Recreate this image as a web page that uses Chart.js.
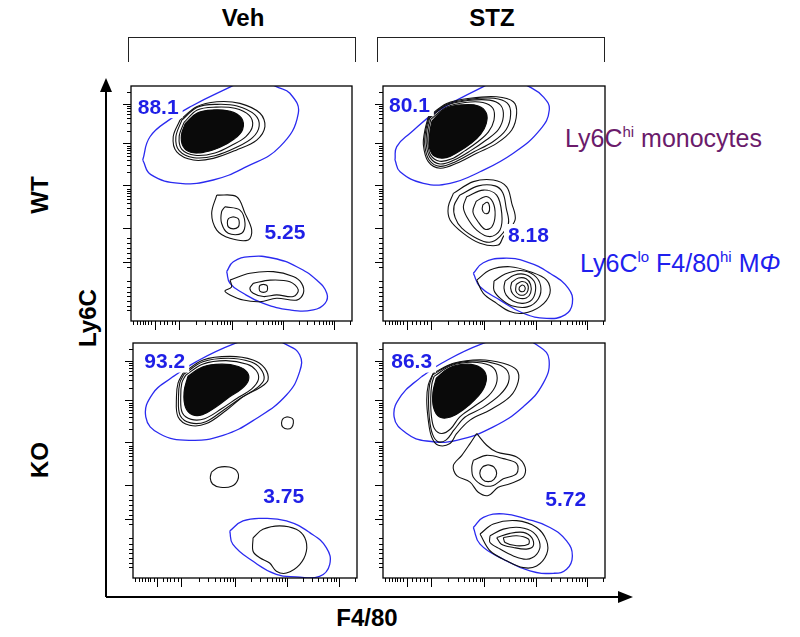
<!DOCTYPE html>
<html>
<head>
<meta charset="utf-8">
<script src="https://cdn.jsdelivr.net/npm/chart.js@4.4.1/dist/chart.umd.min.js"></script>
<style>
  body { margin: 0; width: 800px; height: 637px; position: relative; background: #fff; overflow: hidden;
         font-family: "Liberation Sans", Arial, sans-serif; }
  .panel { position: absolute; }
  .txt { position: absolute; white-space: nowrap; line-height: 1; }
  .bold { font-weight: bold; color: #000; font-size: 24px; }
  .rot { transform: translate(-50%, -50%) rotate(-90deg); }
  .bracket { position: absolute; border: 1.5px solid #222; border-bottom: none; height: 24px; top: 37px; }
  .pop { font-size: 25px; }
  .pop sup { font-size: 15px; vertical-align: 10px; }
</style>
</head>
<body>

<div class="txt bold" style="left:243px; top:18px; transform:translate(-50%,-50%)">Veh</div>
<div class="txt bold" style="left:492px; top:18px; transform:translate(-50%,-50%)">STZ</div>
<div class="bracket" style="left:128px; width:226px"></div>
<div class="bracket" style="left:377px; width:226px"></div>

<div class="txt bold rot" style="left:40px; top:195px">WT</div>
<div class="txt bold rot" style="left:40px; top:460px">KO</div>
<div class="txt bold rot" style="left:88px; top:318px">Ly6C</div>
<div class="txt bold" style="left:367px; top:618px; transform:translate(-50%,-50%)">F4/80</div>

<div class="txt pop" style="left:565px; top:124px; color:#6b1b6b">Ly6C<sup>hi</sup> monocytes</div>
<div class="txt pop" style="left:580px; top:249px; color:#2020ee">Ly6C<sup>lo</sup> F4/80<sup>hi</sup> M<i>Φ</i></div>

<svg width="800" height="637" style="position:absolute; left:0; top:0; pointer-events:none">
  <line x1="106" y1="597" x2="106" y2="88" stroke="#000" stroke-width="2"/>
  <polygon points="100,92 106,78 112,92" fill="#000"/>
  <line x1="106" y1="597" x2="622" y2="597" stroke="#000" stroke-width="2"/>
  <polygon points="618,591 633,597 618,603" fill="#000"/>
</svg>

<div id="wtVeh" class="panel"><canvas></canvas></div>
<div id="wtStz" class="panel"><canvas></canvas></div>
<div id="koVeh" class="panel"><canvas></canvas></div>
<div id="koStz" class="panel"><canvas></canvas></div>

<script>
// axis tick positions (0-100 display units, log-like flow axes)
const xMajorTicks = [10.9, 21.5, 45.7, 68.8, 91.9];
const xMinorTicks = [1, 2.5, 4, 5.3, 6.5, 7.8, 9.2, 13.2, 15, 16.5, 18.5, 20,
  29.5, 33.6, 36.5, 38.8, 40.6, 42.1, 43.5, 44.6, 52.6, 56.7, 59.6, 61.9, 63.7, 65.2, 66.6, 67.7,
  75.8, 79.8, 82.7, 85, 86.8, 88.3, 89.7, 90.8, 98.9];
const yMajorTicks = [25, 39.6, 57.9, 75.7, 92.3];
const yMinorTicks = [4.7, 6.5, 8.5, 10.5, 12.5, 14.5, 17, 23, 27, 29, 31, 33, 35.5,
  44.9, 48, 50.1, 51.8, 53.2, 54.4, 55.4, 56.3, 63.2, 66.3, 68.4, 70.1, 71.5, 72.7, 73.7, 74.6,
  81, 84.1, 86.2, 87.9, 89.3, 90.5, 91.5, 97.6];

// ---- WT Veh ----
const wtVehContours = [
  [[22.2,85.5],[29.7,91.2],[38.8,93.3],[49.3,92.6],[58.4,88.4],[60.6,82.7],[56.9,77.0],[47.8,72.8],[37.2,69.2],[28.2,68.5],[20.7,72.0],[19.1,78.4]],
  [[23,85.5],[30,91],[39,92.2],[48,91.5],[56,87.8],[58,83],[55,78],[48,74],[38,70.3],[28.5,69.5],[21.8,72.5],[20.3,78.3]],
  [[24,84.5],[30,89.8],[38.5,91],[47,90.5],[53.5,87.5],[55,83],[52,78.5],[46,75],[38,71.5],[29,70.5],[23,73],[21.8,78.5]],
  [[38.8,53.6],[47.8,52.9],[51.6,45.8],[54.6,38.7],[53.1,34.5],[44.8,35.2],[38.8,38.7],[36.5,45.8]],
  [[42.5,48.6],[49.3,47.2],[51.6,41.6],[50.1,37.3],[44.0,37.3],[41.0,41.6],[41.0,46.5]],
  [[46.3,44.4],[48.5,43.6],[49,41.8],[48.5,40],[46.3,39.2],[44.1,40],[43.6,41.8],[44.1,43.6]],
  [[44.8,17.4],[53.8,20.3],[64.4,21.0],[73.4,18.9],[77.2,16.0],[78.0,11.8],[75.0,8.9],[65.9,9.7],[58.4,8.2],[50.8,8.9],[44.8,11.1],[42.5,12.8],[45.5,14.5]],
  [[55.3,16.0],[62.9,17.4],[71.9,16.7],[75.7,13.2],[73.4,10.4],[65.9,11.1],[59.9,10.4],[55.3,11.8],[53.8,13.9]],
  [[59.9,15.6],[61.5,15.1],[61.8,13.9],[61.5,12.7],[59.9,12.2],[58.3,12.7],[58,13.9],[58.3,15.1]]
];
const wtVehCore = [[24.5,84],[30,88.5],[37.5,89.8],[45,89.2],[50,86.3],[50.5,81.5],[46.5,77.3],[40,73.8],[33,71.8],[27,71.8],[23.5,74.5],[22.8,79]];
const wtVehSpecks = [[31,80],[36,82],[41,84.5],[45,86.5]];
const wtVehGates = [
  [[5.3,68.5],[9,62.3],[22.2,58.6],[37.2,60],[52.3,65.7],[67.4,74.2],[75.7,88.4],[71.9,96.9],[66,99.6],[55,104],[45,99.6],[27.5,91.5],[17.6,85.8],[8.6,78.4]],
  [[43.3,21.0],[46.3,25.2],[53.8,27.4],[64.4,26.7],[75.0,23.1],[84.0,17.4],[88.6,11.8],[87.8,7.5],[82.5,4.7],[71.9,4.7],[59.9,7.5],[50.8,11.8],[44.8,16.0]]
];
const wtVehPcts = ['88.1', '5.25'];

// ---- WT STZ ----
const wtStzContours = [
  [[20.4,86.9],[28.7,92.6],[39.2,94.8],[51.2,95.4],[58.7,93.3],[60.2,88.4],[58.0,81.3],[51.2,75.6],[42.2,71.4],[33.2,67.1],[25.7,65.0],[20.4,67.8],[18.2,74.9],[18.9,81.3]],
  [[20.7,86.6],[28.7,92.2],[38.8,94.3],[50,94.8],[56,92.7],[57.5,88],[55.5,81.5],[49.5,76.3],[41,72],[32.7,67.8],[25.7,65.8],[20.8,68.5],[18.8,75],[19.3,81.3]],
  [[21,86.3],[28.6,91.8],[38,93.8],[48,94],[53,91.8],[54.2,87],[52,81.5],[46.5,77],[39.5,72.5],[32,68.5],[25.7,66.8],[21.2,69.5],[19.5,75.2],[19.8,81.2]],
  [[21.5,85.8],[28.5,91],[37,93],[45,93],[49.5,90.5],[50,85.5],[47.5,80.5],[43,76.5],[37,72.5],[31,69],[25.5,68],[21.5,70.5],[20.2,75.5],[20.5,81]],
  [[31.7,54.3],[40.7,59.3],[49.7,60.0],[55.7,57.1],[58.0,50.1],[59.5,43.0],[54.2,35.9],[51.9,32.3],[43.7,33.1],[36.2,37.3],[30.2,43.0],[29.4,48.6]],
  [[34.5,53.5],[43,57.5],[50.5,57.5],[54,54.5],[55.5,48],[56.5,41.5],[52.5,35.8],[48,33.5],[42.5,35],[35.5,39.5],[32.5,44],[32,49]],
  [[37.7,52.9],[45.2,55.7],[51.2,53.6],[53.5,45.8],[52.7,38.7],[48.2,35.9],[42.2,38.7],[37.7,44.4],[36.2,48.6]],
  [[42,51],[46.5,53],[49.5,50.5],[50.5,45],[49,40],[46,39],[43,42],[40.5,46.5]],
  [[45,49.5],[47,50.5],[48,48.5],[47.5,46],[45.8,45.8],[44.7,47.5]],
  [[42.2,17.4],[48.2,21.7],[57.2,23.1],[66.2,21.0],[73.7,17.4],[75.2,11.8],[70.7,6.1],[63.2,3.3],[57.2,4.0],[51.2,7.5],[45.2,11.8]],
  [[50,17],[55,20],[62,21.5],[68,19.5],[71,15],[70,9.5],[65,6],[58,6.5],[53,9.5],[50,13]],
  [[55,17],[59,19.5],[64,19.8],[68,17],[68.7,13],[67,9],[63,7.5],[58.5,8.5],[55.5,11],[54.5,14]],
  [[58,16.5],[61,18.3],[64.5,18],[66.5,15.5],[66.5,12],[64.5,9.8],[61,9.8],[58.5,11.5],[57.5,14]],
  [[60,15.5],[62.5,16.8],[65,15.8],[65.3,13],[63.8,11.2],[61.3,11.2],[59.8,12.8]],
  [[61.5,14.5],[62.8,15.3],[64,14.3],[63.7,12.8],[62.2,12.5],[61.3,13.4]]
];
const wtStzCore = [[22,85],[28,90.3],[36,92],[43,91.5],[46.5,88.5],[46.5,84],[44,79.5],[39.5,75.5],[34,72],[28.5,69.5],[23.5,70],[21,73.5],[21,79.5]];
const wtStzSpecks = [[27,78],[32,80],[37,83],[42,86]];
const wtStzGates = [
  [[5.4,68.5],[7.7,63.5],[18.2,58.6],[30.2,58.6],[43.7,63.5],[58.7,71.4],[70.7,81.3],[74.9,89.8],[72.2,95.4],[66,99.6],[55,104],[45,99.6],[24.2,89.1],[12.2,79.9],[6.2,74.2]],
  [[40.7,20.3],[45.2,24.8],[54.2,26.7],[64.7,25.2],[75.2,20.3],[83.5,13.9],[85.3,7.5],[82.0,2.6],[73.7,1.1],[63.2,3.3],[52.7,8.9],[43.7,14.6]]
];
const wtStzPcts = ['80.1', '8.18'];

// ---- KO Veh ----
const koVehContours = [
  [[22.3,87.1],[31.3,92.8],[43.2,94.3],[53.6,92.8],[58.8,89.3],[60.3,84.3],[57.3,81.4],[49.1,77.1],[41.7,71.4],[32.8,65.7],[25.3,65.0],[20.1,68.6],[19.4,77.1],[20.1,82.9]],
  [[22.8,86.8],[31.2,92],[42.5,93.5],[52.5,92],[57,89],[58.5,84.5],[55.5,81],[48,76.5],[40.5,71.5],[32.5,66.5],[25.7,66],[21,69.3],[20.3,77],[20.9,83]],
  [[23.5,86.3],[31,91],[41.5,92.5],[51,91],[55,88.3],[56,84.5],[53,80.5],[46.5,76.5],[39.5,72],[32,67.8],[26,67.5],[22,70.3],[21.3,77],[21.8,83]],
  [[68.9,68.6],[71.2,67.8],[71.6,66],[70.8,64],[68.9,63.4],[66.9,64.2],[66.3,66],[67,67.8]],
  [[35,45],[38,47],[43,47.2],[46.5,45.3],[46.8,41.8],[44,39],[39,38.6],[35.5,40],[34.5,42.5]],
  [[53.6,17.1],[58.0,20.7],[65.5,22.2],[72.9,20.7],[76.7,17.1],[77.4,11.4],[74.4,5.7],[68.5,2.1],[64.0,2.9],[61.0,6.4],[56.6,8.6],[53.6,11.4]]
];
const koVehCore = [[24.5,85.8],[31,89.8],[39.5,91],[47,90],[51,87.5],[51.5,84],[48.5,80.5],[43,77],[37,72.8],[31,69.5],[26.5,69.5],[23.5,72.5],[22.8,79]];
const koVehSpecks = [[30,81],[35,83],[40,85],[45,86.5]];
const koVehGates = [
  [[17.9,85.7],[8.9,78.6],[5.7,68.6],[11.9,61.4],[25.3,58.6],[40.2,60.7],[55.1,67.9],[68.5,77.9],[74.4,87.8],[74.4,95.0],[68.5,99.3],[58,103],[45,99.6],[28.3,92.1]],
  [[43.2,20.0],[49.1,24.3],[58.0,25.4],[68.5,24.3],[78.9,19.3],[86.3,12.9],[87.8,5.7],[83.3,0.7],[72.9,0.5],[64.0,1.5],[53.6,7.1],[44.6,14.3]]
];
const koVehPcts = ['93.2', '3.75'];

// ---- KO STZ ----
const koStzContours = [
  [[22.7,87.2],[31.7,91.4],[43.7,92.9],[54.2,91.4],[60.2,88.6],[60.9,83.6],[57.2,77.2],[48.2,71.5],[39.2,67.2],[33.2,61.5],[30.2,57.2],[24.9,56.5],[21.9,60.0],[20.4,67.2],[19.7,75.7],[20.4,82.2]],
  [[22.4,86.5],[31,90.9],[42,92.4],[51.5,91],[56,88.2],[56.5,83.2],[52.5,77.8],[45,72.5],[37,68.5],[32,63],[28.5,58.8],[24.8,58],[22.3,61.2],[20.9,68],[20.5,76],[21,82.3]],
  [[23,85.8],[30.5,90.3],[40,91.8],[48,90.5],[51,87.5],[51,82.5],[47.5,77.5],[41,73],[34.5,68.5],[30.5,63.5],[26.5,61.5],[23.2,63.5],[21.8,69],[21.5,76.5],[22,82.5]],
  [[42.2,61.5],[46.7,56.5],[51.2,53.6],[60.2,51.5],[64.0,47.2],[63.2,42.9],[57.2,40.1],[51.9,38.6],[47.4,35.1],[42.9,36.5],[39.2,40.8],[33.2,43.6],[31.7,47.9],[35.5,52.2],[39.2,57.2]],
  [[40.7,50.1],[46.7,52.2],[54.2,50.8],[60.2,48.7],[60.2,44.4],[54.2,42.2],[49.7,39.4],[45.2,39.4],[40.7,42.9],[40.0,47.2]],
  [[47.4,48.2],[50,47.2],[51.2,44.6],[50,42],[47.4,41],[44.8,42],[43.6,44.6],[44.8,47.2]],
  [[43.7,18.7],[49.7,23.0],[60.2,24.4],[69.2,21.5],[73.7,15.8],[73.7,10.1],[69.2,5.1],[63.2,4.4],[55.7,7.3],[48.2,11.6]],
  [[48.2,18.0],[54.2,20.8],[61.7,21.5],[67.7,19.4],[70.7,14.4],[69.2,10.1],[64.7,8.0],[58.7,9.4],[52.7,12.3],[48.2,15.1]],
  [[51.2,17.2],[57.2,19.0],[63.2,19.4],[67.0,17.2],[67.7,13.7],[64.7,12.3],[58.7,13.0],[53.3,14.4]],
  [[54.2,17.2],[60.2,18.0],[65.5,16.6],[65.5,14.4],[60.2,13.7],[55.0,15.1]]
];
const koStzCore = [[24,85],[30,89.5],[38,91],[44,89.5],[46.5,86],[45.5,81],[41.5,76],[36,71.5],[30.5,68.5],[25.5,68.5],[22.8,72.5],[22.5,79]];
const koStzSpecks = [[28,79],[33,81.5],[38,84],[42,86]];
const koStzGates = [
  [[17.4,85.7],[8.4,77.9],[5.0,68.6],[10.7,61.5],[19.7,58.3],[33.2,58.6],[49.7,64.3],[63.2,72.9],[72.2,82.9],[74.8,92.9],[70.7,98.3],[58.7,103],[44.5,99.6],[26.4,91.4]],
  [[40.7,21.5],[45.2,25.8],[54.2,27.3],[64.7,25.1],[75.2,21.5],[82.7,15.8],[85.3,9.4],[82.7,3.7],[76.7,2.0],[66.2,3.0],[54.2,8.0],[43.7,14.4]]
];
const koStzPcts = ['86.3', '5.72'];

// where the gate percentages sit (display units)
const labelSpots = {
  wtVeh: [[12.3, 91], [69.7, 37.6]],
  wtStz: [[11.9, 91.9], [65.5, 36.6]],
  koVeh: [[14.2, 92.1], [67.3, 35]],
  koStz: [[12.9, 92.1], [82.3, 33.7]]
};

const toPts = arr => {
  const p = arr.map(([x, y]) => ({ x, y }));
  p.push({ ...p[0] });
  return p;
};

function flowPlugin(pcts, spots) {
  return {
    id: 'flowPanel',
    afterDatasetsDraw(chart) {
      const { ctx, chartArea: a, scales: { x, y } } = chart;
      ctx.save();
      ctx.font = 'bold 21px "Liberation Sans", Arial, sans-serif';
      ctx.textAlign = 'center';
      ctx.textBaseline = 'middle';
      pcts.forEach((t, i) => {
        const px = x.getPixelForValue(spots[i][0]);
        const py = y.getPixelForValue(spots[i][1]);
        const w = ctx.measureText(t).width;
        ctx.fillStyle = '#fff';
        ctx.fillRect(px - w / 2 - 4, py - 11, w + 8, 22);
        ctx.fillStyle = '#1f1fe6';
        ctx.fillText(t, px, py + 1);
      });
      ctx.strokeStyle = '#000';
      ctx.lineWidth = 1.3;
      ctx.strokeRect(a.left, a.top, a.right - a.left, a.bottom - a.top);
      ctx.lineWidth = 1;
      ctx.beginPath();
      xMinorTicks.forEach(v => { const p = Math.round(x.getPixelForValue(v)) + 0.5; ctx.moveTo(p, a.bottom); ctx.lineTo(p, a.bottom + 4); });
      xMajorTicks.forEach(v => { const p = Math.round(x.getPixelForValue(v)) + 0.5; ctx.moveTo(p, a.bottom); ctx.lineTo(p, a.bottom + 9); });
      yMinorTicks.forEach(v => { const p = Math.round(y.getPixelForValue(v)) + 0.5; ctx.moveTo(a.left, p); ctx.lineTo(a.left - 4, p); });
      yMajorTicks.forEach(v => { const p = Math.round(y.getPixelForValue(v)) + 0.5; ctx.moveTo(a.left, p); ctx.lineTo(a.left - 8, p); });
      ctx.stroke();
      ctx.restore();
    }
  };
}

function drawPanel(id, box, contours, core, specks, gates, pcts) {
  const el = document.getElementById(id);
  Object.assign(el.style, {
    left: (box.left - 16) + 'px', top: (box.top - 4) + 'px',
    width: (box.w + 20) + 'px', height: (box.h + 20) + 'px'
  });
  const datasets = [];
  datasets.push({ data: toPts(core), showLine: true, fill: 'shape', backgroundColor: '#0a0a0a',
    borderColor: '#0a0a0a', borderWidth: 1.2, pointRadius: 0, tension: 0.4 });
  datasets.push({ data: specks.map(([x, y]) => ({ x, y })), showLine: true, borderColor: '#fff',
    borderWidth: 1.2, borderDash: [3, 3], pointRadius: 0, tension: 0.3 });
  contours.forEach(c => datasets.push({ data: toPts(c), showLine: true, borderColor: '#111',
    borderWidth: 1.1, pointRadius: 0, tension: 0.35, fill: false }));
  gates.forEach(g => datasets.push({ data: toPts(g), showLine: true, borderColor: '#2a2af0',
    borderWidth: 1.3, pointRadius: 0, tension: 0.45, fill: false }));

  new Chart(el.querySelector('canvas'), {
    type: 'scatter',
    data: { datasets },
    options: {
      responsive: true,
      maintainAspectRatio: false,
      animation: false,
      layout: { padding: { left: 16, top: 4, right: 4, bottom: 16 } },
      elements: { line: { capBezierPoints: false } },
      scales: {
        x: { type: 'linear', min: 0, max: 100, display: false },
        y: { type: 'linear', min: 0, max: 100, display: false }
      },
      plugins: { legend: { display: false }, tooltip: { enabled: false } }
    },
    plugins: [flowPlugin(pcts, labelSpots[id])]
  });
}

drawPanel('wtVeh', { left: 131, top: 86, w: 221, h: 235 }, wtVehContours, wtVehCore, wtVehSpecks, wtVehGates, wtVehPcts);
drawPanel('wtStz', { left: 383, top: 86, w: 222, h: 235 }, wtStzContours, wtStzCore, wtStzSpecks, wtStzGates, wtStzPcts);
drawPanel('koVeh', { left: 133, top: 343, w: 224, h: 235 }, koVehContours, koVehCore, koVehSpecks, koVehGates, koVehPcts);
drawPanel('koStz', { left: 383, top: 343, w: 222, h: 235 }, koStzContours, koStzCore, koStzSpecks, koStzGates, koStzPcts);
</script>
</body>
</html>
